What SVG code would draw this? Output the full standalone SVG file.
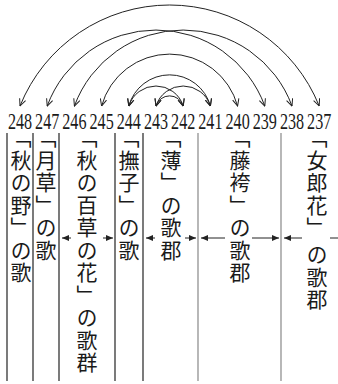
<svg xmlns="http://www.w3.org/2000/svg" width="338" height="384" viewBox="0 0 338 384">
<style>
.num{font-family:"Liberation Serif",serif;font-size:17px;fill:#1a1a1a;text-anchor:middle}
.vt{font-family:"Noto Sans CJK JP",sans-serif;font-size:21px;fill:#1a1a1a;writing-mode:vertical-rl;letter-spacing:1.5px}
.arc{fill:none;stroke:#222;stroke-width:1;marker-start:url(#va);marker-end:url(#va)}
.rule{stroke:#222;stroke-width:1.2}
.rule.g{stroke:#888}
.ha{stroke:#222;stroke-width:1;fill:none}
.ha.end{marker-end:url(#fa)}
</style>
<defs>
<marker id="va" viewBox="0 0 8 8" refX="7.5" refY="4" markerWidth="8" markerHeight="8" markerUnits="userSpaceOnUse" orient="auto-start-reverse">
<path d="M0.5,0.8 L7.5,4 L0.5,7.2" fill="none" stroke="#222" stroke-width="1"/>
</marker>
<marker id="fa" viewBox="0 0 7 6" refX="7" refY="3" markerWidth="7" markerHeight="6" markerUnits="userSpaceOnUse" orient="auto">
<path d="M0,0 L7,3 L0,6 z" fill="#222"/>
</marker>
</defs>

<g id="connectors">
<path class="arc" d="M20,106 A161.3,161.3 0 0,1 319.2,106"/>
<path class="arc" d="M47.2,106 A115.9,115.9 0 0,1 264.8,106"/>
<path class="arc" d="M74.4,106 A115.9,115.9 0 0,1 292,106"/>
<path class="arc" d="M101.6,106 A70.5,70.5 0 0,1 237.6,106"/>
<path class="arc" d="M128.8,106 A42.3,42.3 0 0,1 210.4,106"/>
<path class="arc" d="M128.8,106 A28.5,28.5 0 0,1 183.2,106"/>
<path class="arc" d="M156,106 A28.5,28.5 0 0,1 210.4,106"/>
<path class="arc" d="M156,106 A14.2,14.2 0 0,1 183.2,106"/>
<path class="ha end" d="M71,238 H62"/>
<path class="ha end" d="M103,238 H113"/>
<path class="ha end" d="M155,238 H146"/>
<path class="ha end" d="M185,238 H196"/>
<path class="ha end" d="M225,238 H201"/>
<path class="ha end" d="M252,238 H279"/>
<path class="ha end" d="M302,238 H284"/>
<path class="ha" d="M330,238 H338"/>
</g>

<g id="rules">
<line class="rule" x1="7" y1="133" x2="7" y2="381"/>
<line class="rule" x1="33" y1="133" x2="33" y2="381"/>
<line class="rule" x1="59" y1="133" x2="59" y2="381"/>
<line class="rule" x1="115" y1="133" x2="115" y2="381"/>
<line class="rule" x1="143" y1="133" x2="143" y2="381"/>
<line class="rule g" x1="198" y1="133" x2="198" y2="381"/>
<line class="rule g" x1="281" y1="133" x2="281" y2="381"/>
</g>

<g id="numbers">
<g id="n248" transform="translate(20,128.5) scale(0.95,1.38)"><text class="num">248</text></g>
<g id="n247" transform="translate(47.2,128.5) scale(0.95,1.38)"><text class="num">247</text></g>
<g id="n246" transform="translate(74.4,128.5) scale(0.95,1.38)"><text class="num">246</text></g>
<g id="n245" transform="translate(101.6,128.5) scale(0.95,1.38)"><text class="num">245</text></g>
<g id="n244" transform="translate(128.8,128.5) scale(0.95,1.38)"><text class="num">244</text></g>
<g id="n243" transform="translate(156,128.5) scale(0.95,1.38)"><text class="num">243</text></g>
<g id="n242" transform="translate(183.2,128.5) scale(0.95,1.38)"><text class="num">242</text></g>
<g id="n241" transform="translate(210.4,128.5) scale(0.95,1.38)"><text class="num">241</text></g>
<g id="n240" transform="translate(237.6,128.5) scale(0.95,1.38)"><text class="num">240</text></g>
<g id="n239" transform="translate(264.8,128.5) scale(0.95,1.38)"><text class="num">239</text></g>
<g id="n238" transform="translate(292,128.5) scale(0.95,1.38)"><text class="num">238</text></g>
<g id="n237" transform="translate(319.2,128.5) scale(0.95,1.38)"><text class="num">237</text></g>
</g>

<g id="col-akinono"><text class="vt" x="21" y="127">「秋の野」の歌</text></g>
<g id="col-tsukikusa"><text class="vt" x="46" y="127">「月草」の歌</text></g>
<g id="col-akinomomokusa"><text class="vt" x="87" y="127">「秋の百草の花」の歌群</text></g>
<g id="col-nadeshiko"><text class="vt" x="129" y="127">「撫子」の歌</text></g>
<g id="col-susuki"><text class="vt" x="171" y="127">「薄」の歌郡</text></g>
<g id="col-fujibakama"><text class="vt" x="240" y="127">「藤袴」の歌郡</text></g>
<g id="col-ominaeshi"><text class="vt" x="317" y="127">「女郎花」<tspan dy="4">の歌郡</tspan></text></g>
</svg>
